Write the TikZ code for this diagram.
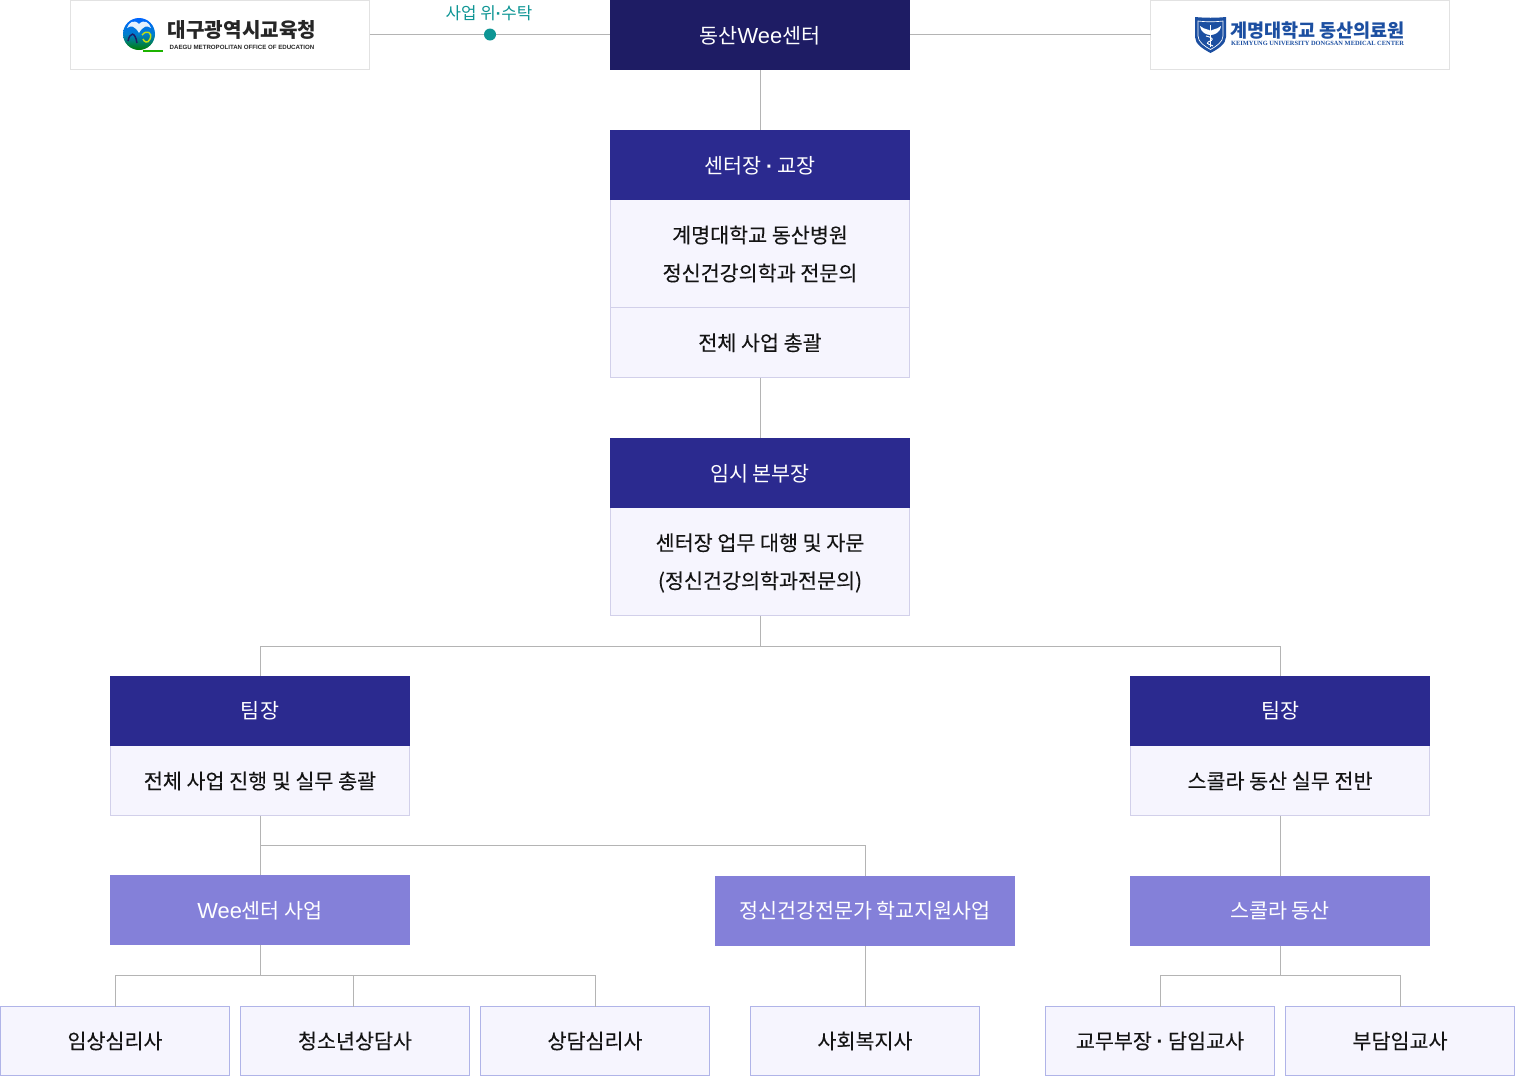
\documentclass[tikz,border=0pt]{standalone}
\usepackage{fontspec}
\setmainfont{Noto Sans CJK KR}
\newfontfamily\medfont[FakeBold=0.12]{Noto Sans CJK KR}
\newfontfamily\lgfont{Liberation Sans}
\newfontfamily\lgserif{Liberation Serif}
\newcommand{\tx}[2][.75pt]{\raisebox{-#1}[\height][\depth]{#2}}
\newcommand{\mdot}{{\lgfont\bfseries ·}}
\newcommand{\weeword}{{\lgfont\fontsize{16.4}{28.5}\selectfont Wee}}
\definecolor{navy}{HTML}{1E1C64}
\definecolor{indigo}{HTML}{2B2A8F}
\definecolor{violet}{HTML}{8480D9}
\definecolor{pale}{HTML}{F6F5FE}
\definecolor{paleln}{HTML}{D2D0EA}
\definecolor{leafln}{HTML}{B0B4E8}
\definecolor{wire}{HTML}{B4B4B4}
\definecolor{teal1}{HTML}{0E9594}
\definecolor{logoln}{HTML}{E2E2E2}
\definecolor{kblue}{HTML}{1C4FA1}
\tikzset{
  x=0.75pt,y=-0.75pt,
  base/.style={inner sep=0pt,outer sep=0pt,align=center,line width=.75pt},
  light/.style={base,font=\fontsize{15.5}{28.5}\selectfont,text=white},
  dark/.style={base,font=\medfont\fontsize{15.5}{28.5}\selectfont,text=black!92},
  logobox/.style={base,draw=logoln,fill=white,minimum width=224.25pt,minimum height=51.75pt},
  headtop/.style={light,fill=navy,minimum width=225pt,minimum height=52.5pt},
  head/.style={light,fill=indigo,minimum width=225pt,minimum height=52.5pt},
  sub/.style={light,fill=violet,minimum width=225pt,minimum height=52.5pt},
  body/.style={dark,draw=paleln,fill=pale,minimum width=224.25pt},
  leaf/.style={dark,draw=leafln,fill=pale,minimum width=171.75pt,minimum height=51.75pt},
  wired/.style={draw=wire,line width=.75pt},
  small/.style={font=\fontsize{12.6}{14}\selectfont,text=teal1,inner sep=0pt}
}
\begin{document}
\begin{tikzpicture}
\useasboundingbox (0,0) rectangle (1515,1076);
\node[logobox] (edu) at (220,35) {};
\node[logobox] (med) at (1300,35) {};
\node[headtop] (wee) at (760,35) {\tx{동산\weeword 센터}};
\node[body,minimum height=81pt] (chiefa) at (760,253.5) {\tx[.4pt]{계명대학교 동산병원}\\\tx[.4pt]{정신건강의학과 전문의}};
\node[head] (chief) at (760,165) {\tx{센터장 \mdot{} 교장}};
\node[body,minimum height=52.5pt] (chiefb) at (760,342.5) {\tx[.2pt]{전체 사업 총괄}};
\node[body,minimum height=81pt] (vicea) at (760,561.5) {\tx[1.1pt]{센터장 업무 대행 및 자문}\\\tx[1.1pt]{(정신건강의학과전문의)}};
\node[head] (vice) at (760,473) {\tx{임시 본부장}};
\node[body,minimum height=52.5pt] (teamLb) at (260,780.5) {\tx[.4pt]{전체 사업 진행 및 실무 총괄}};
\node[head] (teamL) at (260,711) {\tx[0pt]{팀장}};
\node[body,minimum height=52.5pt] (teamRb) at (1280,780.5) {\tx[.4pt]{스콜라 동산 실무 전반}};
\node[head] (teamR) at (1280,711) {\tx[0pt]{팀장}};
\node[sub] (subA) at (260,910) {\tx{\weeword 센터 사업}};
\node[sub] (subB) at (865,911) {\tx[0pt]{정신건강전문가 학교지원사업}};
\node[sub] (subC) at (1280,911) {\tx[0pt]{스콜라 동산}};
\node[leaf] (l1) at (115,1041) {\tx[0pt]{임상심리사}};
\node[leaf] (l2) at (355,1041) {\tx[0pt]{청소년상담사}};
\node[leaf] (l3) at (595,1041) {\tx[0pt]{상담심리사}};
\node[leaf] (l4) at (865,1041) {\tx[0pt]{사회복지사}};
\node[leaf] (l5) at (1160,1041) {\tx[0pt]{교무부장 \mdot{} 담임교사}};
\node[leaf] (l6) at (1400,1041) {\tx[0pt]{부담임교사}};
% connectors
\draw[wired] ([yshift=.5pt]edu.east) -- ([yshift=.5pt]wee.west);
\draw[wired] ([yshift=.5pt]wee.east) -- ([yshift=.5pt]med.west);
\draw[wired] (wee) -- (chief);
\draw[wired] (chiefb) -- (vice);
\coordinate (j1) at (760,646.5);
\draw[wired] (vicea.south) -- (j1);
\draw[wired] (j1) -| (teamL.north);
\draw[wired] (j1) -| (teamR.north);
\coordinate (j2) at (260,845.5);
\draw[wired] (teamLb.south) -- (subA.north);
\draw[wired] (j2) -| (subB.north);
\draw[wired] (teamRb.south) -- (subC.north);
\coordinate (j3) at (260,975.5);
\draw[wired] (subA.south) -- (j3);
\draw[wired] (j3) -| (l1.north);
\draw[wired] (j3) -| (l3.north);
\coordinate (j3b) at (353,975.5);
\draw[wired] (j3b) -- (l2.north -| j3b);
\draw[wired] (subB.south) -- (l4.north);
\coordinate (j4) at (1280,975.5);
\draw[wired] (subC.south) -- (j4);
\draw[wired] (j4) -| (l5.north);
\draw[wired] (j4) -| (l6.north);
% contract dot and label
\node[circle,fill=teal1,minimum size=9pt,inner sep=0pt] (dot) at (490,34.5) {};
\node[small] (deal) at (489,13) {사업 위\mdot{}수탁};
% left logo
\shade[top color=blue!60!cyan,bottom color=green!50!black,middle color=teal!55!blue!70!cyan] (139,34) circle (16);
\fill[white,opacity=.9] (139,24) .. controls (134,19) and (129,22) .. (127,28) .. controls (131,25) and (135,26) .. (139,33) .. controls (143,26) and (147,25) .. (151,28) .. controls (149,22) and (144,19) .. (139,24) -- cycle;
\draw[navy,line width=1.1pt] (128,41) .. controls (130,32) and (135,31) .. (137,43);
\draw[yellow!75!green,line width=1.1pt] (142,35) .. controls (147,29) and (153,33) .. (150,39) .. controls (148,44) and (144,42) .. (143,39);
\fill[green!65!black!85!lime] (143,49.5) rectangle (163,52);
\node[inner sep=0pt,font=\fontsize{15.1}{18}\selectfont\bfseries,text=black!85] (edut) at (242,30) {대구광역시교육청};
\node[inner sep=0pt,font=\lgfont\bfseries\fontsize{4.6}{5}\selectfont,text=black!85] (edue) at (242,47.5) {DAEGU METROPOLITAN OFFICE OF EDUCATION};
% right logo
\fill[kblue] (1195,17) .. controls (1205,18) and (1216,18) .. (1226,17) -- (1226,37) .. controls (1226,44) and (1218,49) .. (1210.5,53) .. controls (1203,49) and (1195,44) .. (1195,37) -- cycle;
\draw[white,line width=.5pt] (1198,21) .. controls (1206,22) and (1215,22) .. (1223,21) -- (1223,36) .. controls (1223,42) and (1216,46.5) .. (1210.5,49.5) .. controls (1205,46.5) and (1198,42) .. (1198,36) -- cycle;
\fill[white] (1200,26) .. controls (1205,30) and (1209,29) .. (1210.5,31) .. controls (1212,29) and (1216,30) .. (1221,26) .. controls (1220,33) and (1214,35) .. (1210.5,35) .. controls (1207,35) and (1201,33) .. (1200,26) -- cycle;
\draw[white,line width=.8pt] (1210.5,25) -- (1210.5,47);
\draw[white,line width=.7pt] (1206,36) .. controls (1214,38) and (1214,40) .. (1208,42) .. controls (1205,44) and (1212,45) .. (1213,46);
\node[inner sep=0pt,font=\fontsize{13.9}{15}\selectfont\bfseries,text=kblue] (medt) at (1317.5,31) {계명대학교 동산의료원};
\node[inner sep=0pt,font=\lgserif\bfseries\fontsize{4.8}{6}\selectfont,text=kblue] (mede) at (1317.5,43) {KEIMYUNG UNIVERSITY DONGSAN MEDICAL CENTER};
\end{tikzpicture}
\end{document}
